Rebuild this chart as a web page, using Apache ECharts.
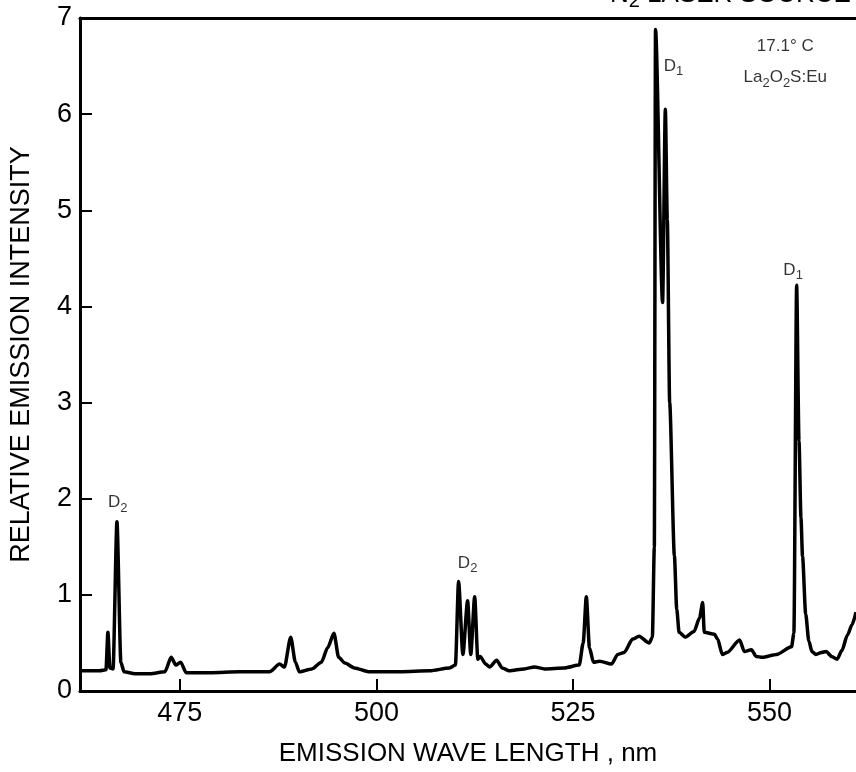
<!DOCTYPE html>
<html>
<head>
<meta charset="utf-8">
<script src="https://cdn.jsdelivr.net/npm/echarts@6/dist/echarts.min.js"></script>
<style>
  html, body { margin: 0; padding: 0; background: #fff; }
  #chart { width: 856px; height: 772px; }
</style>
</head>
<body>
<div id="chart"></div>
<script>
// emission spectrum (nm, relative intensity)
const wavelengths = [
    462.3, 464.8, 465.6, 465.85, 466.1, 466.5, 467.0, 467.5, 467.9, 469.3,
    471.2, 473.1, 473.9, 474.5, 475.1, 475.8, 478.8, 482.6, 486.4, 487.7,
    488.3, 489.1, 489.7, 490.2, 491.8, 493.0, 493.8, 494.6, 495.2, 496.0,
    497.2, 499.1, 503.0, 506.8, 509.3, 510.05, 510.45, 511.0, 511.6, 512.0,
    512.5, 512.9, 513.2, 513.9, 514.4, 515.3, 516.0, 516.9, 518.8, 520.1,
    521.4, 523.9, 525.8, 526.3, 526.7, 527.1, 527.6, 528.4, 529.9, 530.7,
    531.5, 532.6, 533.4, 534.7, 535.1, 535.35, 535.5, 536.4, 536.75, 537.0,
    537.3, 537.9, 538.2, 538.5, 539.3, 540.4, 541.1, 541.5, 541.7, 543.0,
    543.4, 544.0, 544.6, 546.2, 546.8, 547.7, 548.3, 549.1, 550.9, 552.8,
    553.1, 553.45, 553.75, 554.0, 554.2, 554.6, 555.0, 555.4, 555.9, 556.6,
    557.2, 557.9, 558.6, 559.2, 559.9, 560.5, 561.0
];
const intensities = [
    0.21, 0.21, 0.22, 0.61, 0.24, 0.23, 1.76, 0.30, 0.20, 0.18,
    0.18, 0.20, 0.35, 0.27, 0.30, 0.19, 0.19, 0.20, 0.20, 0.28,
    0.25, 0.56, 0.30, 0.20, 0.23, 0.30, 0.45, 0.60, 0.35, 0.29,
    0.24, 0.20, 0.20, 0.21, 0.24, 0.27, 1.14, 0.38, 0.94, 0.38,
    0.98, 0.33, 0.36, 0.28, 0.25, 0.32, 0.24, 0.21, 0.23, 0.25,
    0.23, 0.24, 0.27, 0.50, 0.98, 0.45, 0.30, 0.31, 0.28, 0.38,
    0.40, 0.54, 0.57, 0.50, 0.56, 1.5, 6.88, 4.04, 6.05, 4.9,
    3.0, 1.41, 0.85, 0.61, 0.56, 0.62, 0.76, 0.92, 0.61, 0.59,
    0.54, 0.38, 0.40, 0.53, 0.41, 0.43, 0.36, 0.35, 0.38, 0.46,
    0.6, 4.22, 2.6, 1.8, 1.4, 0.8, 0.52, 0.41, 0.38, 0.40,
    0.41, 0.36, 0.33, 0.42, 0.58, 0.69, 0.82
];

const xTicks = [475, 500, 525, 550];
const yTicks = [0, 1, 2, 3, 4, 5, 6, 7];

// annotations placed in data coordinates
const noteX = [467.1, 511.6, 537.8, 553.0, 552.0, 552.0];
const noteY = [1.96, 1.33, 6.5, 4.38, 6.71, 6.38];
const noteText = ['D{sub|2}', 'D{sub|2}', 'D{sub|1}', 'D{sub|1}', '17.1° C', 'La{sub|2}O{sub|2}S:Eu'];

const FONT = 'Liberation Sans, Arial, sans-serif';

const myChart = echarts.init(document.getElementById('chart'));

const spectrum = wavelengths.map((w, i) => [w, intensities[i]]);
const notes = noteX.map((x, i) => ({ value: [x, noteY[i]], text: noteText[i] }));

const subRich = {
    sub: { fontSize: 13, lineHeight: 13, verticalAlign: 'bottom', fontFamily: FONT, color: '#000' }
};

const option = {
    animation: false,
    backgroundColor: '#fff',
    grid: { left: 80, right: 0, top: 18, bottom: 75 },
    xAxis: [
        {
            type: 'value',
            min: 462.3,
            max: 561,
            name: 'EMISSION WAVE LENGTH , nm',
            nameLocation: 'middle',
            nameGap: 38,
            nameTextStyle: { fontSize: 26, fontFamily: FONT, color: '#000', padding: [12, 0, 0, 0] },
            axisLine: { lineStyle: { color: '#000', width: 3 } },
            axisTick: { inside: true, length: 12, lineStyle: { color: '#000', width: 2 }, customValues: xTicks },
            axisLabel: { customValues: xTicks, fontSize: 27, fontFamily: FONT, color: '#000', margin: 9 },
            splitLine: { show: false }
        },
        {
            type: 'value',
            position: 'top',
            min: 462.3,
            max: 561,
            axisLine: { lineStyle: { color: '#000', width: 3 } },
            axisTick: { show: false },
            axisLabel: { show: false },
            splitLine: { show: false }
        }
    ],
    yAxis: {
        type: 'value',
        min: 0,
        max: 7,
        interval: 1,
        name: 'RELATIVE EMISSION INTENSITY',
        nameLocation: 'middle',
        nameGap: 45,
        nameTextStyle: { fontSize: 27, fontFamily: FONT, color: '#000' },
        axisLine: { show: true, lineStyle: { color: '#000', width: 3 } },
        axisTick: { inside: true, length: 12, lineStyle: { color: '#000', width: 2 } },
        axisLabel: {
            fontSize: 27, fontFamily: FONT, color: '#000', margin: 8,
            formatter: v => (yTicks.includes(v) ? String(v) : '')
        },
        splitLine: { show: false }
    },
    graphic: [
        {
            type: 'text',
            left: 610,
            top: -21,
            style: {
                text: 'N{big|2} LASER SOURCE',
                fontSize: 26,
                lineHeight: 32,
                fontFamily: FONT,
                fill: '#000',
                rich: {
                    big: { fontSize: 20, lineHeight: 20, verticalAlign: 'bottom', fontFamily: FONT, color: '#000' }
                }
            }
        }
    ],
    series: [
        {
            type: 'line',
            data: spectrum,
            showSymbol: false,
            smooth: 0.25,
            smoothMonotone: 'x',
            clip: true,
            lineStyle: { color: '#000', width: 3.5, join: 'round' },
            z: 3
        },
        {
            type: 'scatter',
            data: notes,
            symbolSize: 0,
            silent: true,
            label: {
                show: true,
                position: 'inside',
                fontSize: 17,
                lineHeight: 24,
                fontFamily: FONT,
                color: '#000',
                formatter: p => p.data.text,
                rich: subRich
            },
            z: 5
        }
    ]
};

myChart.setOption(option);
</script>
</body>
</html>
